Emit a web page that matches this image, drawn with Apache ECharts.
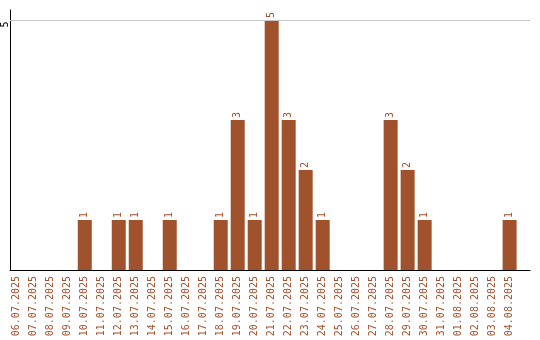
<!DOCTYPE html>
<html>
<head>
<meta charset="utf-8">
<script src="https://cdn.jsdelivr.net/npm/echarts@6/dist/echarts.min.js"></script>
<style>html,body{margin:0;padding:0;background:#fff}#c{width:540px;height:340px}</style>
</head>
<body>
<div id="c"></div>
<script>
const categories = ["06.07.2025","07.07.2025","08.07.2025","09.07.2025","10.07.2025","11.07.2025","12.07.2025","13.07.2025","14.07.2025","15.07.2025","16.07.2025","17.07.2025","18.07.2025","19.07.2025","20.07.2025","21.07.2025","22.07.2025","23.07.2025","24.07.2025","25.07.2025","26.07.2025","27.07.2025","28.07.2025","29.07.2025","30.07.2025","31.07.2025","01.08.2025","02.08.2025","03.08.2025","04.08.2025"];
const values = [0,0,0,0,1,0,1,1,0,1,0,0,1,3,1,5,3,2,1,0,0,0,3,2,1,0,0,0,0,1];
const yTicks = [5];

const color = '#a0522d';
const font = 'DejaVu Sans Mono';
const chart = echarts.init(document.getElementById('c'), null, {renderer: 'canvas'});
chart.setOption({
  animation: false,
  grid: {left: 10, right: 10, top: 10, bottom: 70, containLabel: false, outerBoundsMode: 'none'},
  xAxis: {
    type: 'value', min: -0.4, max: 30.2,
    axisLine: {show: true, onZero: false, lineStyle: {color: '#000', width: 1}},
    axisTick: {show: false},
    splitLine: {show: false},
    axisLabel: {
      customValues: categories.map((c, i) => i),
      formatter: v => categories[v] || '',
      rotate: 90, margin: 6, color: color, fontFamily: font, fontSize: 10
    }
  },
  yAxis: {
    type: 'value', min: 0, max: 5.2,
    axisLine: {show: true, onZero: false, lineStyle: {color: '#000', width: 1}},
    axisTick: {show: false},
    splitLine: {show: false},
    axisLabel: {customValues: yTicks, rotate: 90, margin: 0, padding: [0, 9, 0, 0], color: '#000', fontFamily: font, fontSize: 10}
  },
  series: [{
    type: 'bar',
    barWidth: 14,
    data: values.map((v, i) => [i, v]),
    itemStyle: {color: color},
    label: {
      show: true, position: 'top', rotate: 90, distance: 2,
      align: 'left', verticalAlign: 'middle',
      color: color, fontFamily: font, fontSize: 10,
      formatter: p => p.value[1] ? String(p.value[1]) : ''
    },
    markLine: {
      silent: true, symbol: 'none', label: {show: false},
      lineStyle: {color: '#c8c8c8', type: 'solid', width: 1},
      data: yTicks.map(t => ({yAxis: t}))
    },
    z: 3
  }]
});
</script>
</body>
</html>
